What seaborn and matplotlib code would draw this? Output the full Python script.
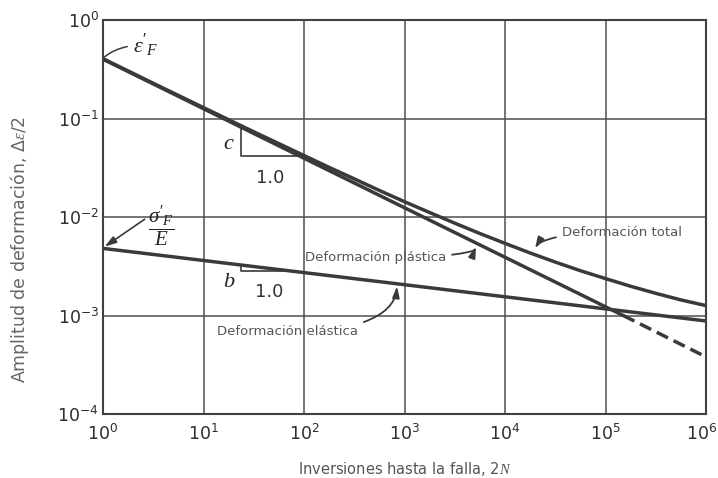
import matplotlib
matplotlib.use("Agg")
import matplotlib.pyplot as plt
import matplotlib.transforms as mtransforms
import seaborn as sns
import pandas as pd

# Strain-life (Coffin-Manson / Basquin) curves, log-log
reversals = [1, 3.16, 10, 31.6, 100, 178, 316, 562, 1e3, 1.78e3, 3.16e3, 5.62e3,
             1e4, 1.78e4, 3.16e4, 5.62e4, 1e5, 1.78e5, 3.16e5, 5.62e5, 1e6]
total_amp = [0.405, 0.228, 0.129, 0.0733, 0.0421, 0.0319, 0.0244, 0.0186, 0.0143,
             0.0111, 0.00866, 0.0068, 0.0054, 0.00431, 0.00349, 0.00285, 0.00237,
             0.00198, 0.00168, 0.00144, 0.00126]

plastic_x = [1, 1.5e5]
plastic_y = [0.40, 1.0e-3]
plastic_ext_x = [1.5e5, 1e6]
plastic_ext_y = [1.0e-3, 3.8e-4]

elastic_x = [1, 1e6]
elastic_y = [0.0048, 0.00088]

x_ticks = [1, 10, 100, 1e3, 1e4, 1e5, 1e6]
x_tick_labels = [r"$\mathregular{10^{%d}}$" % k for k in range(0, 7)]
y_ticks = [1e-4, 1e-3, 1e-2, 1e-1, 1]
y_tick_labels = [r"$\mathregular{10^{%d}}$" % k for k in (-4, -3, -2, -1, 0)]

sns.set_style("white")
plt.rcParams["font.family"] = ["DejaVu Sans"]
plt.rcParams["mathtext.fontset"] = "custom"
plt.rcParams["mathtext.rm"] = "Liberation Sans"
plt.rcParams["mathtext.it"] = "Liberation Serif:italic"
plt.rcParams["mathtext.bf"] = "Liberation Sans:bold"

ink = "#3a3a3a"
grid_ink = "#505050"
text_ink = "#555555"

fig = plt.figure(figsize=(7.18, 4.78), dpi=100)
ax = fig.add_axes([103 / 718, 1 - 414 / 478, 603 / 718, 394 / 478])

df_total = pd.DataFrame({"N": reversals, "amp": total_amp})
df_pl = pd.DataFrame({"N": plastic_x, "amp": plastic_y})
df_pl_ext = pd.DataFrame({"N": plastic_ext_x, "amp": plastic_ext_y})
df_el = pd.DataFrame({"N": elastic_x, "amp": elastic_y})

lw = 2.5
sns.lineplot(data=df_total, x="N", y="amp", ax=ax, color=ink, lw=lw,
             estimator=None, sort=False)
sns.lineplot(data=df_pl, x="N", y="amp", ax=ax, color=ink, lw=lw,
             estimator=None, sort=False)
sns.lineplot(data=df_pl_ext, x="N", y="amp", ax=ax, color=ink, lw=lw,
             estimator=None, sort=False, linestyle=(0, (3.6, 1.8)))
sns.lineplot(data=df_el, x="N", y="amp", ax=ax, color=ink, lw=lw,
             estimator=None, sort=False)

ax.set_xscale("log")
ax.set_yscale("log")
ax.set_xlim(1, 1e6)
ax.set_ylim(1e-4, 1)
ax.set_xticks(x_ticks)
ax.set_xticklabels(x_tick_labels)
ax.set_yticks(y_ticks)
ax.set_yticklabels(y_tick_labels)
ax.minorticks_off()
ax.tick_params(axis="both", length=0, labelsize=12.5, colors="#2e2e2e")
ax.tick_params(axis="x", pad=7)
ax.tick_params(axis="y", pad=3)
ax.grid(True, which="major", color=grid_ink, lw=1.1)
ax.set_axisbelow(True)
for s in ax.spines.values():
    s.set_color("#404040")
    s.set_linewidth(1.5)

# keep the last x tick label inside the canvas
last = ax.get_xticklabels()[-1]
last.set_transform(last.get_transform() +
                   mtransforms.ScaledTranslation(-4 / 100, 0, fig.dpi_scale_trans))

ax.set_xlabel(r"Inversiones hasta la falla, 2$\mathit{N}$", fontsize=10.5,
              color=text_ink, va="top")
ax.xaxis.set_label_coords(0.5, -0.118)
ax.set_ylabel(r"Amplitud de deformación, $\mathregular{\Delta}\varepsilon$/2",
              fontsize=12.5, color="#666666")
ax.yaxis.set_label_coords(-0.12, 0.416)

# epsilon'_F at the origin of the plastic line
ax.annotate(r"$\varepsilon'_F$", xy=(1.03, 0.42), xytext=(2.0, 0.56),
            fontsize=16, ha="left", va="center", color="#222222",
            arrowprops=dict(arrowstyle="-", color=ink, lw=1.1,
                            shrinkA=2, shrinkB=0,
                            connectionstyle="angle3,angleA=180,angleB=40"))

# sigma'_F / E at the origin of the elastic line
ax.text(3.78, 0.0081, r"$\dfrac{\sigma'_F}{E}$", fontsize=15,
        ha="center", va="center", color="#222222")
ax.annotate("", xy=(1.04, 0.0050), xytext=(2.6, 0.0095),
            arrowprops=dict(arrowstyle="-|>,head_length=0.7,head_width=0.22",
                            color=ink, lw=1.2, shrinkA=0, shrinkB=0))

# slope triangle c
thin = dict(color=ink, lw=1.2)
ax.plot([23.6, 23.6, 100], [0.084, 0.0421, 0.0421], **thin)
ax.text(17.9, 0.0564, r"$c$", fontsize=16, ha="center", va="center", color="#222222")
ax.text(45.9, 0.0249, "1.0", fontsize=13, ha="center", va="center", color="#333333")

# slope triangle b
ax.plot([23.6, 23.6, 66], [0.00324, 0.0028, 0.0028], **thin)
ax.text(17.9, 0.00224, r"$b$", fontsize=16, ha="center", va="center", color="#222222")
ax.text(44.9, 0.00173, "1.0", fontsize=13, ha="center", va="center", color="#333333")

arrow_kw = dict(arrowstyle="-|>,head_length=0.7,head_width=0.22",
                color=ink, lw=1.3, shrinkA=2, shrinkB=0)

ax.annotate("Deformación plástica", xy=(5140, 0.0050), xytext=(102, 0.00384),
            fontsize=9.5, color=text_ink, ha="left", va="center",
            arrowprops=dict(connectionstyle="angle3,angleA=0,angleB=70", **arrow_kw))

ax.annotate("Deformación total", xy=(19900, 0.0048), xytext=(36900, 0.00704),
            fontsize=9.5, color=text_ink, ha="left", va="center",
            arrowprops=dict(connectionstyle="angle3,angleA=0,angleB=60", **arrow_kw))

ax.annotate("Deformación elástica", xy=(842, 0.00198), xytext=(13.6, 0.00068),
            fontsize=9.5, color=text_ink, ha="left", va="center",
            arrowprops=dict(connectionstyle="angle3,angleA=0,angleB=85", **arrow_kw))

fig.savefig("out.png", dpi=100, facecolor="white")
